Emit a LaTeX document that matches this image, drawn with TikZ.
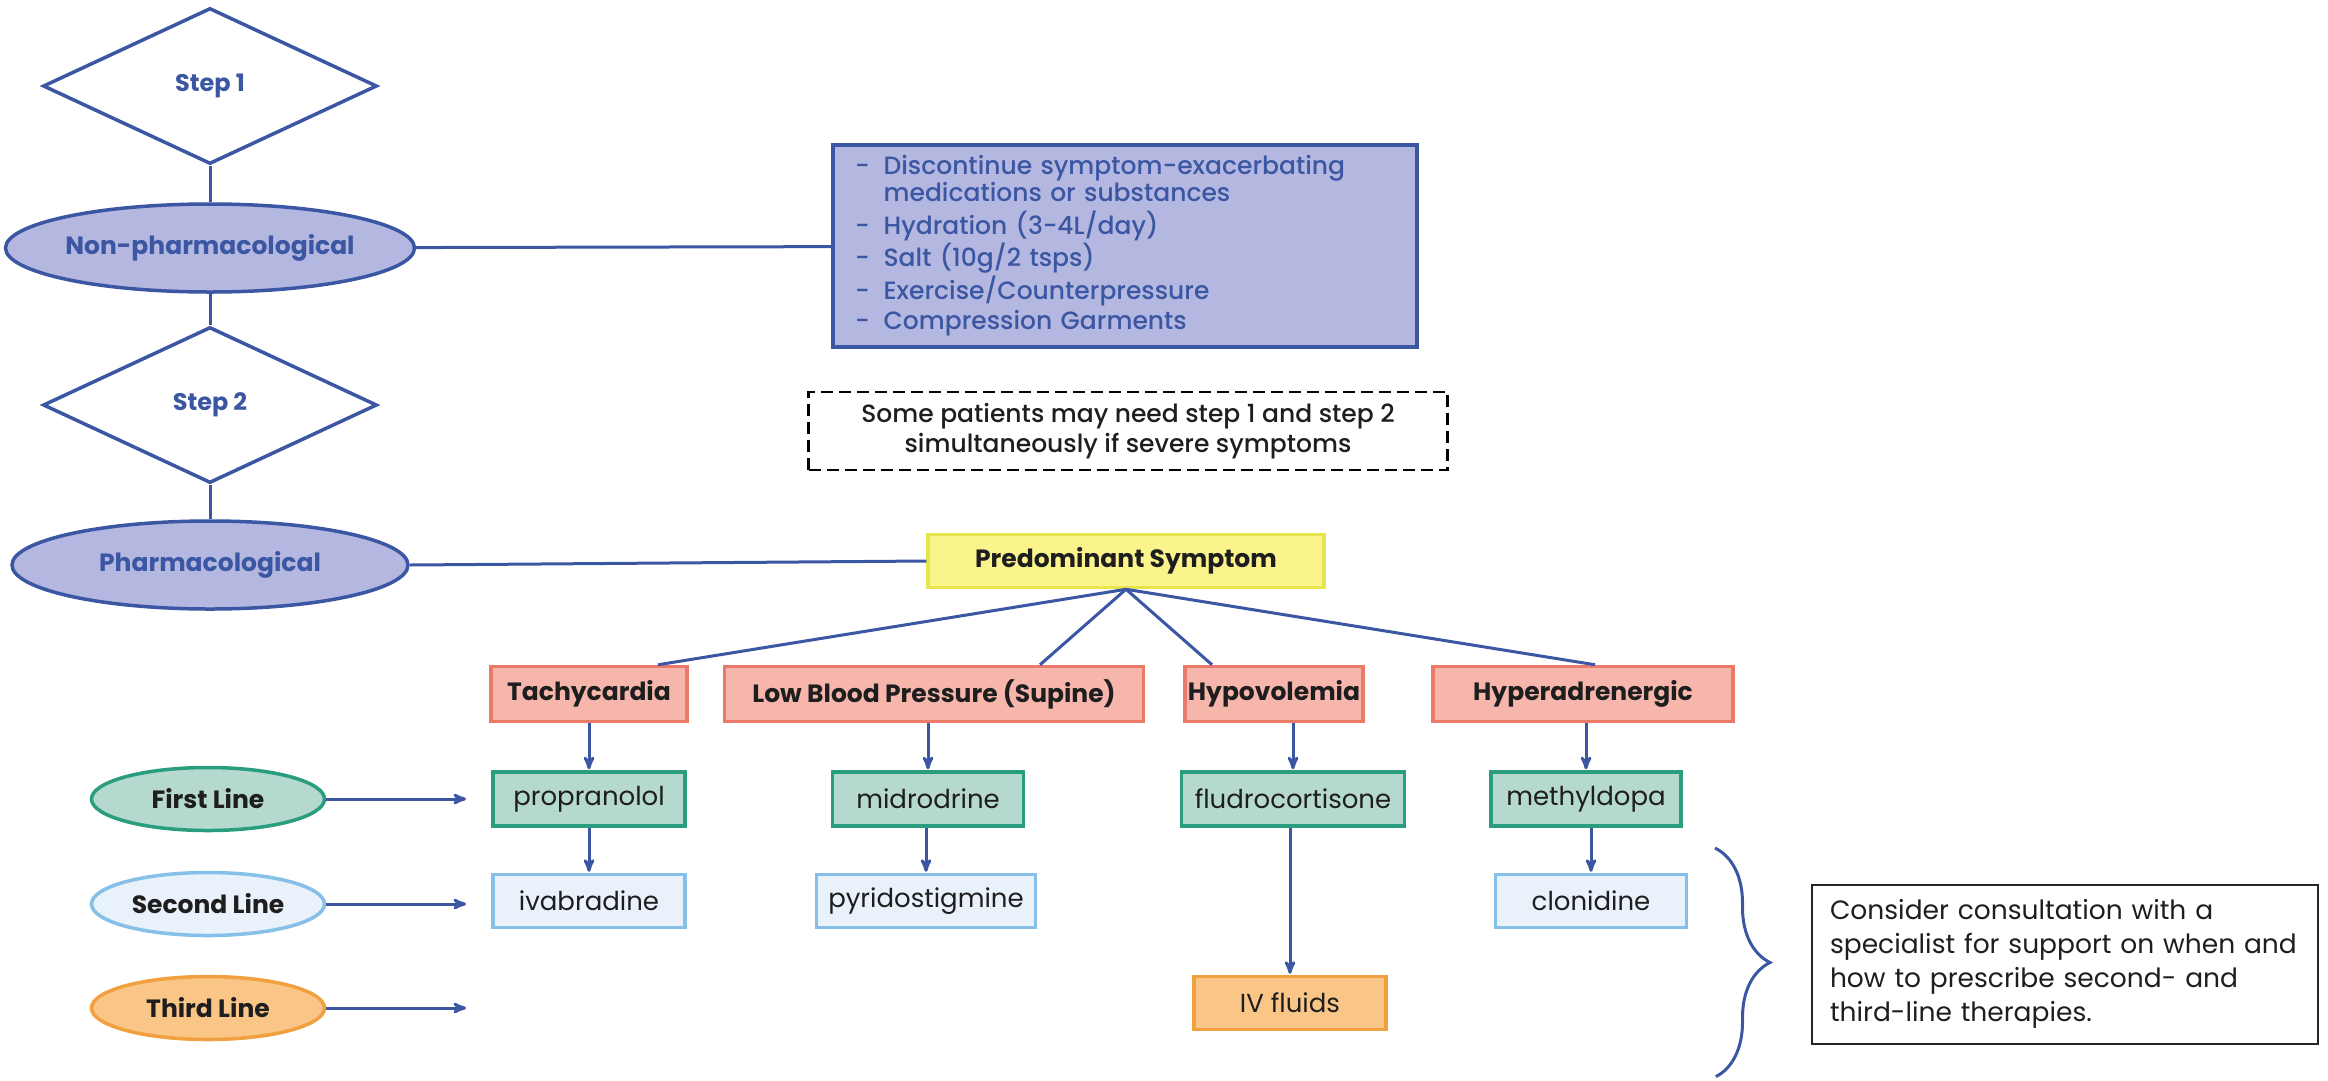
\documentclass[tikz,border=0pt]{standalone}
\usepackage{fontspec}
\setmainfont{Poppins}
\newfontfamily\medfont{Poppins Medium}
\usepackage{tikz}
\usetikzlibrary{shapes.geometric}
\usetikzlibrary{positioning}
\usetikzlibrary{arrows}
\usetikzlibrary{decorations.pathreplacing}

\definecolor{stepblue}{HTML}{3B56A3}
\definecolor{phasefill}{HTML}{B4B8E0}
\definecolor{symfill}{HTML}{F6B6AB}
\definecolor{symline}{HTML}{EC7A6A}
\definecolor{firstfill}{HTML}{B5D8CF}
\definecolor{firstline}{HTML}{2A9D7F}
\definecolor{secondfill}{HTML}{E9F1FA}
\definecolor{secondline}{HTML}{86C0E8}
\definecolor{thirdfill}{HTML}{F9C688}
\definecolor{thirdline}{HTML}{F0A03E}
\definecolor{predfill}{HTML}{FBF38C}
\definecolor{predline}{HTML}{E8E44E}
\definecolor{inktext}{HTML}{1E1E1E}

\begin{document}
\begin{tikzpicture}[x=1pt,y=-1pt,>=stealth',shorten >=1pt,line width=3pt,
	every node/.style={font=\fontsize{26}{30}\selectfont,text=inktext},
	diamond node/.style={diamond,draw=stepblue,fill=white,line width=3.5pt,
		minimum width=334pt,minimum height=156pt,inner sep=0pt,
		text=stepblue,font=\fontsize{24}{28}\selectfont\bfseries},
	phase node/.style={ellipse,draw=stepblue,fill=phasefill,line width=3.5pt,
		minimum width=396pt,minimum height=88pt,inner sep=0pt,
		text=stepblue,font=\fontsize{25}{30}\selectfont\bfseries},
	symptom node/.style={rectangle,draw=symline,fill=symfill,line width=3.5pt,
		minimum height=55pt,inner sep=0pt,font=\fontsize{25}{30}\selectfont\bfseries},
	first node/.style={rectangle,draw=firstline,fill=firstfill,line width=3.5pt,
		minimum height=54pt,inner sep=0pt},
	second node/.style={rectangle,draw=secondline,fill=secondfill,line width=3.5pt,
		minimum height=53pt,inner sep=0pt},
	third node/.style={rectangle,draw=thirdline,fill=thirdfill,line width=3.5pt,
		minimum height=53pt,inner sep=0pt},
	line node/.style={ellipse,line width=3.5pt,minimum width=233pt,
		minimum height=63pt,inner sep=0pt,font=\fontsize{25}{30}\selectfont\bfseries}]
	
	\useasboundingbox (0,0) rectangle (2328,1080);
	
	% steps
	\node[diamond node] (step1) at (210,86) {Step 1};
	\node[phase node] (nonpharm) at (210,248) {Non-pharmacological};
	\node[diamond node] (step2) at (210,405) {Step 2};
	\node[phase node] (pharm) at (210,565) {Pharmacological};
	
	\node[rectangle,draw=stepblue,fill=phasefill,line width=3.5pt,minimum width=584pt,
		minimum height=202pt,inner xsep=22pt,inner ysep=0pt,text width=540pt,align=left,
		text=stepblue,font=\fontsize{25}{30}\medfont] (measures) at (1125,246) {%
		\begin{tabular}{@{}l@{\hspace{14pt}}l@{}}
			- & Discontinue symptom-exacerbating\\[-3pt]
			  & medications or substances\\
			- & Hydration (3-4L/day)\\
			- & Salt (10g/2 tsps)\\
			- & Exercise/Counterpressure\\
			- & Compression Garments
		\end{tabular}};
	
	\node[rectangle,draw=black,dashed,dash pattern=on 12pt off 6pt,line width=2.5pt,
		minimum width=639pt,minimum height=78pt,inner sep=0pt,align=center,
		font=\fontsize{25}{30}\medfont] (note) at (1128,431)
		{Some patients may need step 1 and step 2\\simultaneously if severe symptoms};
	
	\node[rectangle,draw=predline,fill=predfill,line width=3.5pt,minimum width=396pt,
		minimum height=53pt,inner sep=0pt,font=\fontsize{25}{30}\selectfont\bfseries]
		(predom) at (1126,561) {Predominant Symptom};
	
	% symptoms
	\node[symptom node,minimum width=196pt] (tachy) at (589,694) {Tachycardia};
	\node[symptom node,minimum width=419pt] (lowbp) at (934,694) {Low Blood Pressure (Supine)};
	\node[symptom node,minimum width=178pt] (hypovol) at (1274,694) {Hypovolemia};
	\node[symptom node,minimum width=300pt] (hyperadr) at (1583,694) {Hyperadrenergic};
	
	% therapies
	\node[first node,minimum width=192pt] (propr) at (589,799) {propranolol};
	\node[first node,minimum width=191pt] (midro) at (928,799) {midrodrine};
	\node[first node,minimum width=223pt] (fludro) at (1293,799) {fludrocortisone};
	\node[first node,minimum width=190pt] (methyl) at (1586,799) {methyldopa};
	
	\node[second node,minimum width=192pt] (ivab) at (589,901) {ivabradine};
	\node[second node,minimum width=219pt] (pyrido) at (926,901) {pyridostigmine};
	\node[second node,minimum width=191pt] (clon) at (1591,901) {clonidine};
	
	\node[third node,minimum width=192pt] (ivfl) at (1290,1003) {IV fluids};
	
	% lines of therapy
	\node[line node,draw=firstline,fill=firstfill] (firstl) at (208,799) {First Line};
	\node[line node,draw=secondline,fill=secondfill] (secondl) at (208,904) {Second Line};
	\node[line node,draw=thirdline,fill=thirdfill] (thirdl) at (208,1008) {Third Line};
	\coordinate (firstend) at (467,799);
	\coordinate (secondend) at (467,904);
	\coordinate (thirdend) at (467,1008);
	
	\node[rectangle,draw=black!85,line width=2pt,minimum width=502pt,minimum height=159pt,
		inner xsep=18pt,inner ysep=0pt,text width=470pt,align=left,
		font=\fontsize{26.5}{34}\selectfont] (consult) at (2065,964)
		{Consider consultation with a\\specialist for support on when and\\how to prescribe second- and\\third-line therapies.};
	
	\coordinate (bracetop) at (1715,848);
	\coordinate (bracebot) at (1715,1077);
	
	\path[stepblue,shorten >=0pt]
	(step1) edge (nonpharm)
	(nonpharm) edge (step2)
	(step2) edge (pharm)
	(nonpharm) edge (measures)
	(pharm.east) edge (predom.west)
	(predom.south) edge ([xshift=69pt]tachy.north)
	(predom.south) edge ([xshift=106pt]lowbp.north)
	(predom.south) edge ([xshift=-62pt]hypovol.north)
	(predom.south) edge ([xshift=12pt]hyperadr.north);
	
	\path[->,stepblue]
	(tachy) edge (propr)
	(midro.north |- lowbp.south) edge (midro.north)
	(fludro.north |- hypovol.south) edge (fludro.north)
	(methyl.north |- hyperadr.south) edge (methyl.north)
	(propr) edge (ivab)
	(pyrido.north |- midro.south) edge (pyrido.north)
	(clon.north |- methyl.south) edge (clon.north)
	(ivfl.north |- fludro.south) edge (ivfl.north)
	(firstl) edge (firstend)
	(secondl) edge (secondend)
	(thirdl) edge (thirdend);
	
	\draw[stepblue,decorate,decoration={brace,amplitude=55pt}] (bracetop) -- (bracebot);
\end{tikzpicture}
\end{document}
